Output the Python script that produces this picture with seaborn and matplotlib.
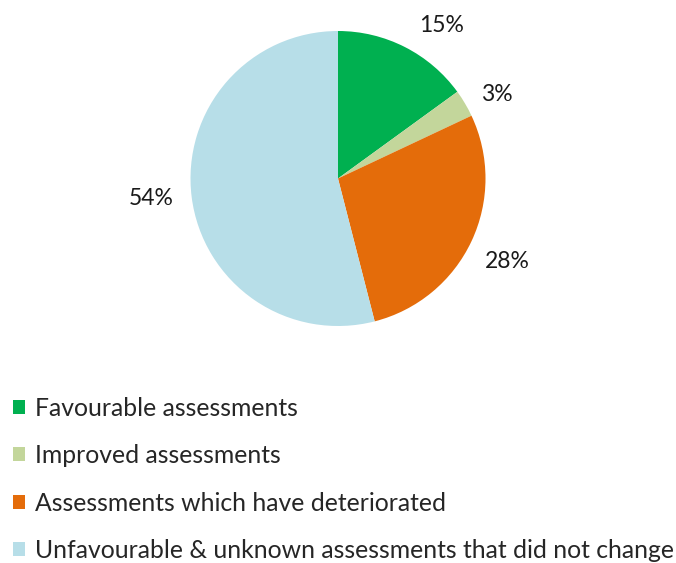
import matplotlib
matplotlib.use('Agg')
import matplotlib.pyplot as plt
import seaborn as sns
import numpy as np
from matplotlib.patches import Patch

# --- data ---
categories = [
    'Favourable assessments',
    'Improved assessments',
    'Assessments which have deteriorated',
    'Unfavourable & unknown assessments that did not change',
]
shares = [15, 3, 28, 54]
colors = ['#00b050', '#c3d69b', '#e46c0a', '#b7dee8']
# where each percentage label sits (angle in deg, radius), like Excel's "best fit"
label_angles = [56, 28, -26, 186]
label_radii = [1.25, 1.22, 1.28, 1.27]

sns.set_style('white')
plt.rcParams['font.family'] = ['Lato', 'DejaVu Sans']

fig = plt.figure(figsize=(6.76, 5.63), dpi=100)
ax = fig.add_axes([190.5 / 676, 237 / 563, 295 / 676, 295 / 563])

wedges, texts = ax.pie(shares, colors=colors, startangle=90, counterclock=False,
                       labels=[f'{v}%' for v in shares], labeldistance=1.27,
                       textprops={'fontsize': 16.5, 'color': '#1a1a1a'},
                       wedgeprops={'linewidth': 0})
ax.set_aspect('equal')
ax.set_xlim(-1, 1)
ax.set_ylim(-1, 1)

for t, a, r in zip(texts, label_angles, label_radii):
    t.set_position((r * np.cos(np.radians(a)), r * np.sin(np.radians(a))))
    t.set_ha('center')
    t.set_va('center')

handles = [Patch(facecolor=c, edgecolor='none') for c in colors]
fig.legend(handles, categories, loc='upper left', bbox_to_anchor=(0.005, 0.313),
           frameon=False, fontsize=17.8, handlelength=0.48, handleheight=0.48,
           handletextpad=0.38, labelspacing=0.99, borderaxespad=0.0)

plt.savefig('out.png', dpi=100)
